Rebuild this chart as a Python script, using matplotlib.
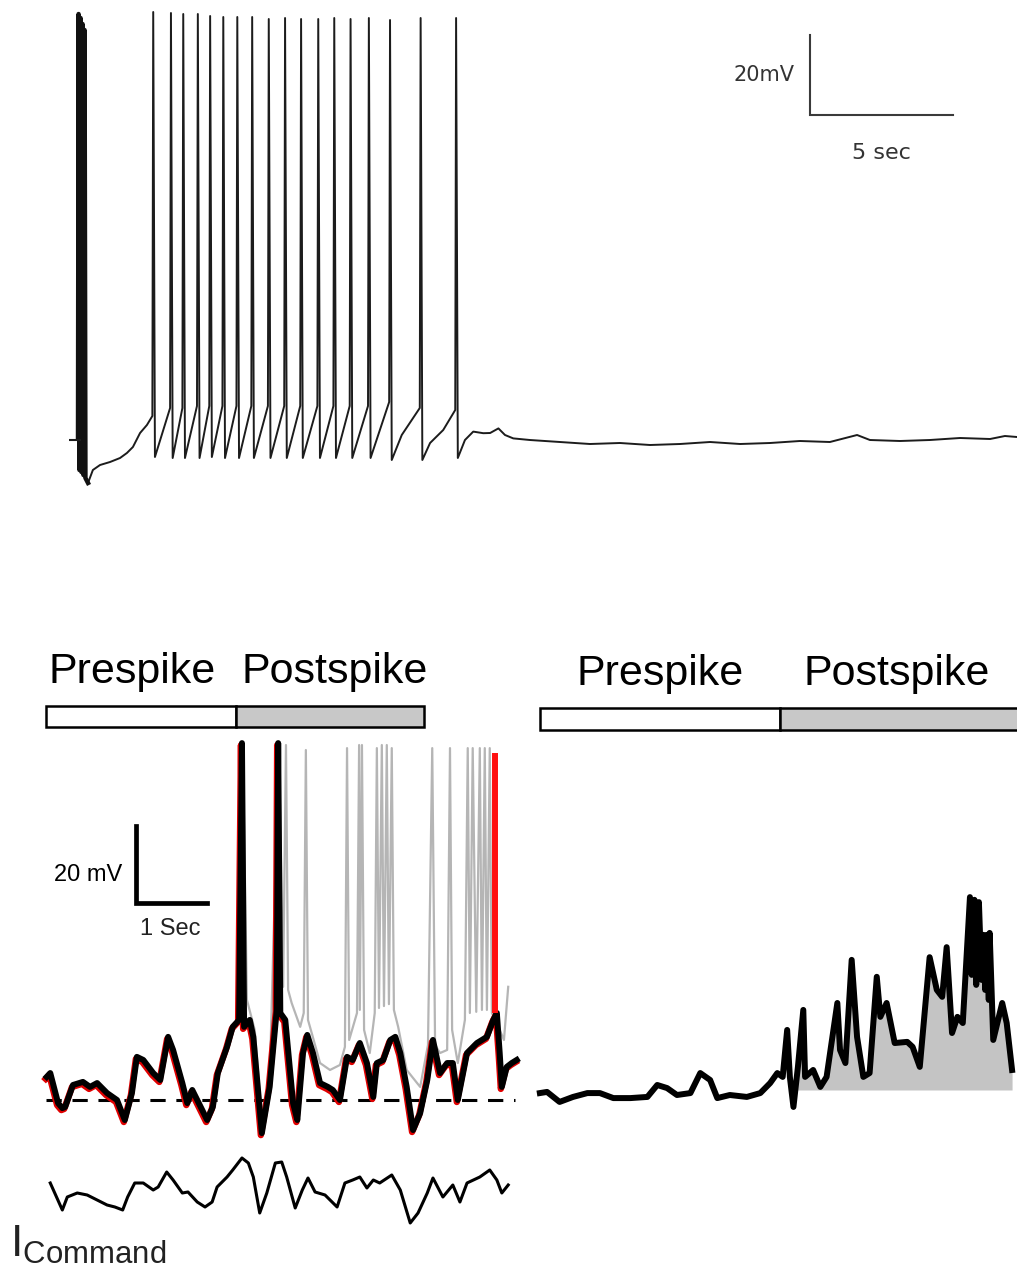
import matplotlib
matplotlib.use("Agg")
from matplotlib import pyplot as plt
from matplotlib import transforms

plt.rcParams['font.family'] = ['Liberation Sans', 'DejaVu Sans']

# ---------------- top: long step, time (s) / Vm (mV)
REST_TOP = -60.0
top_start_t = [0.0, 0.02, 0.05, 0.09, 0.12, 0.16, 0.19, 0.23, 0.26, 0.35, 0.52, 0.77, 1.12, 1.47, 1.71, 1.92, 2.17, 2.41]
top_start_v = [-59.5, 46.5, -67.5, 45.5, -68.0, 44.0, -68.75, 42.5, -69.5, -70.75, -67.5, -66.25, -65.5, -64.5, -63.25, -61.75, -58.25, -56.25]
N_ARTIFACT = 10  # first points = stimulus artefact

spike_t = [2.63, 3.25, 3.68, 4.19, 4.62, 5.08, 5.57, 6.09, 6.67, 7.24, 7.80, 8.40, 8.96, 9.53, 10.17, 10.91, 11.98, 13.22]
spike_peak = [47.0, 46.75, 46.5, 46.5, 46.0, 45.75, 45.75, 45.75, 45.25, 45.5, 45.25, 45.25, 45.5, 45.25, 45.5, 45.0, 45.5, 45.5]
spike_thr = [-54.0, -52.0, -52.0, -51.5, -51.5, -51.5, -51.5, -51.5, -51.5, -51.5, -51.5, -51.5, -51.5, -51.5, -51.5, -50.5, -52.0, -52.5]
spike_trough = [-64.25, -64.5, -64.5, -64.5, -64.25, -64.5, -64.5, -64.5, -64.5, -64.5, -64.5, -64.5, -64.5, -64.5, -64.5, -65.0, -65.0, -64.5]

top_slow_t = [11.32, 12.31, 12.77, 13.53, 13.82, 14.17, 14.41, 14.70, 14.93, 15.22, 15.80, 16.85, 17.90, 18.95, 20.00,
              21.05, 22.10, 23.15, 24.20, 25.24, 26.29, 27.24, 27.69, 28.74, 29.79, 30.84, 31.89, 32.41, 32.83]
top_slow_v = [-58.75, -60.75, -57.5, -60.0, -57.9, -58.3, -58.25, -57.1, -58.75, -59.6, -60.0, -60.5, -61.0, -60.75, -61.25,
              -61.0, -60.5, -61.0, -60.75, -60.25, -60.5, -58.75, -60.0, -60.25, -60.0, -59.5, -59.75, -59.0, -59.25]

# ---------------- bottom left: spike-triggered traces, time (s) / Vm (mV)
REST_BL = -65.0
PRE_WIN = 2.68
POST_WIN = 2.64

black_t = [0.01, 0.06, 0.17, 0.23, 0.27, 0.38, 0.52, 0.62, 0.72, 0.86, 1.00, 1.11, 1.21, 1.28, 1.37, 1.51, 1.61, 1.72, 1.79, 1.92,
           1.99, 2.06, 2.13, 2.27, 2.35, 2.42, 2.55, 2.63, 2.72, 2.76, 2.79, 2.87, 2.92, 3.04, 3.15, 3.25, 3.27, 3.30, 3.37, 3.48,
           3.54, 3.62, 3.68, 3.76, 3.86, 3.97, 4.04, 4.14, 4.24, 4.32, 4.42, 4.52, 4.61, 4.66, 4.75, 4.85, 4.92, 4.99, 5.08, 5.17,
           5.27, 5.37, 5.45, 5.55, 5.65, 5.73, 5.80, 5.93, 6.07, 6.21, 6.30, 6.35, 6.39, 6.42, 6.49, 6.56, 6.63]
black_v = [-59.0, -58.0, -65.8, -67.1, -66.8, -61.1, -60.3, -61.6, -60.6, -63.2, -65.0, -70.2, -63.2, -53.8, -54.6, -58.0, -59.8, -48.6, -52.0, -60.6,
           -65.8, -62.4, -65.0, -70.2, -66.8, -58.0, -51.2, -46.0, -44.2, 27.7, -46.0, -44.2, -48.6, -73.6, -61.6, -41.6, 27.7, -42.4, -44.2, -65.8,
           -70.2, -52.8, -48.1, -52.8, -60.6, -61.6, -62.4, -65.0, -53.8, -54.6, -50.2, -55.4, -64.2, -55.4, -54.6, -49.4, -48.6, -52.8, -61.6, -72.8,
           -68.4, -59.8, -49.4, -58.0, -55.4, -55.4, -65.0, -52.8, -50.2, -48.6, -44.2, -42.4, -52.8, -61.6, -56.4, -55.4, -54.6]

gray_t = [2.59, 2.70, 2.77, 2.83, 2.94, 3.04, 3.15, 3.28, 3.34, 3.38, 3.41, 3.46, 3.58, 3.63, 3.66, 3.69, 3.75, 3.86, 4.00, 4.14,
          4.21, 4.24, 4.27, 4.38, 4.41, 4.42, 4.45, 4.48, 4.56, 4.63, 4.66, 4.69, 4.73, 4.76, 4.80, 4.83, 4.87, 4.90, 4.96, 5.08,
          5.27, 5.38, 5.44, 5.48, 5.55, 5.65, 5.69, 5.72, 5.80, 5.90, 5.94, 5.97, 6.01, 6.06, 6.11, 6.14, 6.18, 6.21, 6.25, 6.28,
          6.39, 6.45, 6.51]
gray_v = [-49.4, -44.2, 27.7, -39.0, -46.8, -70.2, -59.8, 27.7, -35.6, 27.2, -36.4, -39.8, -46.0, -42.4, 25.9, -44.2, -48.1, -55.4, -57.2, -55.9,
          -51.2, 26.4, -49.4, -42.4, 27.2, -41.6, 27.2, -46.8, -52.8, -42.4, 26.4, -41.1, 27.2, -40.6, 27.2, -40.1, 26.4, -41.6, -46.0, -57.2,
          -61.6, -50.7, 26.4, -50.7, -52.8, -52.0, 26.4, -46.8, -55.4, -44.2, 26.4, -42.4, 26.4, -42.1, 26.4, -41.6, 26.4, -41.6, 26.4, -42.4,
          -46.8, -49.4, -35.6]

red_spike_t = 6.32
red_spike_v = [-42.4, 25.1]

# command current (pA, arbitrary zero)
cmd_t = [0.06, 0.23, 0.30, 0.44, 0.58, 0.72, 0.86, 0.97, 1.08, 1.15, 1.25, 1.37, 1.51, 1.58, 1.70, 1.79, 1.92, 2.00, 2.13, 2.24,
         2.34, 2.41, 2.55, 2.63, 2.76, 2.85, 2.92, 3.01, 3.11, 3.23, 3.32, 3.39, 3.51, 3.61, 3.69, 3.79, 3.93, 4.10, 4.21, 4.32,
         4.42, 4.52, 4.61, 4.70, 4.87, 4.99, 5.13, 5.24, 5.37, 5.45, 5.59, 5.73, 5.83, 5.93, 6.11, 6.25, 6.35, 6.42, 6.51]
cmd_i = [24, -30, -4, 4, 0, -10, -20, -24, -30, -4, 24, 24, 10, 16, 46, 30, 4, 6, -14, -24,
         -14, 16, 36, 50, 74, 64, 36, -36, 4, 64, 66, 36, -26, 10, 34, 6, 0, -24, 24, 30,
         36, 14, 30, 24, 40, 10, -56, -36, 4, 34, -4, 20, -14, 24, 36, 50, 30, 4, 20]

# ---------------- bottom right: average, time from spike (s) / Vm (mV)
avg_t = [-2.68, -2.60, -2.46, -2.31, -2.15, -2.01, -1.86, -1.67, -1.48, -1.37, -1.26, -1.15, -1.00, -0.89, -0.78, -0.70, -0.56,
         -0.37, -0.22, -0.11, -0.03, 0.03, 0.08, 0.11, 0.15, 0.20, 0.26, 0.28, 0.37, 0.45, 0.52, 0.64, 0.67, 0.73, 0.80, 0.86,
         0.93, 1.00, 1.08, 1.12, 1.19, 1.28, 1.42, 1.48, 1.56, 1.67, 1.75, 1.81, 1.86, 1.92, 1.98, 2.04, 2.12, 2.14, 2.17, 2.19,
         2.22, 2.25, 2.27, 2.29, 2.31, 2.33, 2.34, 2.38, 2.48, 2.53, 2.59]
avg_v = [-65.8, -65.5, -68.1, -66.8, -65.8, -65.8, -67.1, -67.1, -66.8, -63.7, -64.5, -66.3, -65.8, -60.6, -62.4, -67.1, -66.3,
         -66.8, -65.8, -63.2, -60.6, -61.6, -49.4, -61.6, -69.4, -59.0, -44.2, -61.6, -59.8, -64.2, -61.6, -42.4, -54.6, -58.0, -31.2, -51.2,
         -61.6, -60.6, -35.6, -46.0, -42.4, -52.8, -52.5, -53.8, -59.0, -30.5, -39.0, -40.8, -27.9, -50.2, -46.0, -47.6, -14.9, -35.1, -15.6, -37.7,
         -16.2, -36.4, -24.7, -39.0, -24.7, -41.6, -24.2, -52.0, -42.4, -47.6, -59.8]
FILL_FROM = 0.2

win_labels = ["Prespike", "Postspike"]
win_colors = ["white", "#c8c8c8"]

W, H = 1017, 1276
fig = plt.figure(figsize=(W / 100, H / 100), dpi=100)

# ---- top panel
ax = fig.add_axes([0, 1 - 500 / H, 1, 500 / H])
ax.set_xlim(-78 / 28.6, 939 / 28.6)
ax.set_ylim(-75, 50)
ax.axis("off")

pts = list(zip(top_start_t, top_start_v))
for t, thr, pk, tr in zip(spike_t, spike_thr, spike_peak, spike_trough):
    pts += [(t - 0.03, thr), (t, pk), (t + 0.06, tr)]
pts += list(zip(top_slow_t, top_slow_v))
pts.sort()
ax.plot([p[0] for p in pts], [p[1] for p in pts], color="#1c1c1c", lw=1.4)
# artefact drawn heavier so it reads as a solid bar
ax.plot(top_start_t[:N_ARTIFACT], top_start_v[:N_ARTIFACT], color="#111111", lw=3.2)
ax.plot(top_start_t[0] - 0.1, REST_TOP, marker="_", ms=8, mew=1.5, color="#1c1c1c")

sx, sy = 25.6, 21.25
ax.plot([sx, sx, sx + 5], [sy + 20, sy, sy], color="#3a3a3a", lw=1.5, solid_joinstyle="miter")
ax.text(sx - 0.55, sy + 10, "20mV", ha="right", va="center", fontsize=15, family="DejaVu Sans", color="#333333")
ax.text(sx + 2.5, sy - 9.5, "5 sec", ha="center", va="center", fontsize=16, family="DejaVu Sans", color="#333333")

# ---- bottom left
ax2 = fig.add_axes([0, 1 - 1150 / H, 530 / W, 520 / H])
ax2.set_xlim(-46 / 71, 484 / 71)
ax2.set_ylim(-65 - 50 / 3.85, -65 + 470 / 3.85)
ax2.axis("off")

ax2.barh(34.6, [PRE_WIN, POST_WIN], left=[0, PRE_WIN], height=5.4, color=win_colors,
         edgecolor="black", lw=1.8)
ax2.text(0.03, 43.3, win_labels[0], ha="left", va="baseline", fontsize=31)
ax2.text(PRE_WIN + 0.07, 43.3, win_labels[1], ha="left", va="baseline", fontsize=31)

ax2.plot(gray_t, gray_v, color="#b5b5b5", lw=1.6, zorder=1)
ax2.hlines(REST_BL, black_t[0] - 0.01, 6.6, colors="black", lw=2.2, linestyles=(0, (5, 3.5)), zorder=2)
red_tr = transforms.offset_copy(ax2.transData, fig=fig, x=-1.0, y=-2.0, units="dots")
ax2.plot(black_t, black_v, color="#e00000", lw=4.6, transform=red_tr, zorder=3)
ax2.plot(black_t, black_v, color="black", lw=4.3, zorder=4)
ax2.plot([red_spike_t, red_spike_t], red_spike_v, color="#ff1010", lw=4.3, zorder=5,
         solid_capstyle="butt")

bx, by = 1.27, -13.8
ax2.plot([bx, bx, bx + 1], [by + 20, by, by], color="black", lw=3.4, solid_joinstyle="miter")
ax2.text(bx - 0.2, by + 7.2, "20 mV", ha="right", va="center", fontsize=17)
ax2.text(bx + 0.48, by - 6.8, "1 Sec", ha="center", va="center", fontsize=17, color="#222222")

# ---- command current
ax3 = fig.add_axes([0, 0, 530 / W, 136 / H])
ax3.set_xlim(-46 / 71, 484 / 71)
ax3.set_ylim(-162, 110)
ax3.axis("off")
ax3.plot(cmd_t, cmd_i, color="black", lw=2.2)
fig.text(10 / W, 1 - 1245 / H, r"$\mathregular{I_{Command}}$", ha="left", va="center", fontsize=32,
         color="#222222")

# ---- bottom right
ax4 = fig.add_axes([520 / W, 1 - 1150 / H, 497 / W, 520 / H])
ax4.set_xlim(-260 / 89.6, 237 / 89.6)
ax4.set_ylim(-65 - 60 / 3.85, -65 + 460 / 3.85)
ax4.axis("off")
ax4.barh(31.35, [PRE_WIN, PRE_WIN], left=[-PRE_WIN, 0], height=5.7, color=win_colors,
         edgecolor="black", lw=1.8, clip_on=True)
ax4.text(-PRE_WIN / 2, 40.2, win_labels[0], ha="center", va="baseline", fontsize=31)
ax4.text(PRE_WIN / 2 - 0.04, 40.2, win_labels[1], ha="center", va="baseline", fontsize=31)

post = [t >= FILL_FROM for t in avg_t]
ax4.fill_between(avg_t, REST_BL, avg_v, where=post, color="#c4c4c4", lw=0, interpolate=True, zorder=1)
ax4.plot(avg_t, avg_v, color="black", lw=4.3, zorder=2)

fig.savefig("out.png", dpi=100)
